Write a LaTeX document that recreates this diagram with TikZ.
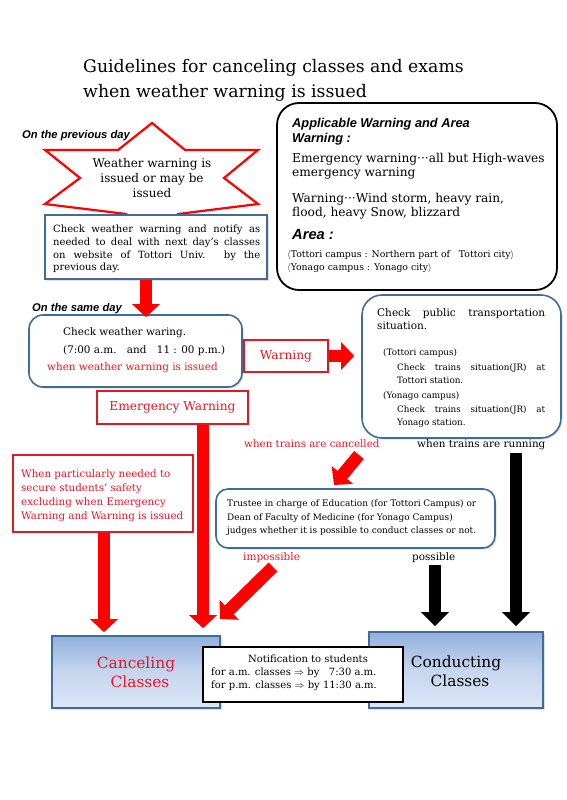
\documentclass[tikz,border=0pt]{standalone}
\usepackage{fontspec}
\setmainfont{DejaVu Serif}
\usetikzlibrary{arrows.meta,shadows}
\newfontfamily\labfont{Liberation Sans}
\definecolor{boxblue}{RGB}{65,108,152}
\definecolor{wred}{RGB}{255,0,0}
\definecolor{tred}{RGB}{225,25,35}
\definecolor{topblue}{RGB}{146,176,222}
\definecolor{botblue}{RGB}{220,230,246}
\tikzset{
  fs/.style={font=\fontsize{#1}{#1}\selectfont},
  txt/.style={inner sep=0pt, anchor=base west},
  ctxt/.style={inner sep=0pt, anchor=base},
  lab/.style={txt, font=\labfont\bfseries\itshape\fontsize{#1}{#1}\selectfont},
  lab/.default=11.2,
  softshadow/.style={drop shadow={shadow xshift=1.5pt, shadow yshift=-1.5pt, opacity=0.25, fill=gray}},
  bluebox/.style={draw=boxblue, line width=1.6pt, fill=white, inner sep=0pt, softshadow},
  redbox/.style={draw=tred, line width=1.6pt, fill=white, text=tred, inner sep=0pt, fs=12.2},
  finalbox/.style={draw=boxblue, line width=1.6pt, top color=topblue, bottom color=botblue, middle color=botblue!70!topblue, inner sep=0pt, softshadow},
  redarrow/.style={draw=wred, line width=12.5pt, -{Triangle[width=27pt,length=13pt]}},
  blackarrow/.style={draw=black, line width=12.5pt, -{Triangle[width=27pt,length=14pt]}},
}
\begin{document}
\begin{tikzpicture}[x=1pt,y=-1pt]
\useasboundingbox (0,0) rectangle (566,800);
\fill[white] (0,0) rectangle (566,800);

% title
\node[txt, fs=17.3] (title1) at (83,73) {Guidelines for canceling classes and exams};
\node[txt, fs=17.3] (title2) at (83,97) {when weather warning is issued};

% previous day
\node[lab] (prevday) at (22,138) {On the previous day};
\draw[draw=wred, line width=2.2pt, fill=white, line join=miter]
  (152,123) -- (185,150) -- (258,150) -- (224,178) -- (258,204) -- (178,214) -- (152,240)
  -- (126,214) -- (45,204) -- (80,178) -- (45,150) -- (118,150) -- cycle;
\node[ctxt, fs=12] (star1) at (152,167) {Weather warning is};
\node[ctxt, fs=12] (star2) at (152,182) {issued or may be};
\node[ctxt, fs=12] (star3) at (152,197) {issued};

\node[bluebox, line width=1.3pt, minimum width=222pt, minimum height=64pt] (box1) at (156,247) {};
\node[txt, fs=10] (b1a) at (53,232) {\makebox[207pt][s]{Check weather warning and notify as}};
\node[txt, fs=10] (b1b) at (53,245) {\makebox[207pt][s]{needed to deal with next day's classes}};
\node[txt, fs=10] (b1c) at (53,258) {\makebox[207pt][s]{on website of Tottori Univ. by the}};
\node[txt, fs=10] (b1d) at (53,270) {previous day.};

% applicable warning box
\node[draw=black, line width=1.8pt, rounded corners=22pt, minimum width=280pt, minimum height=187pt, inner sep=0pt] (apbox) at (417,196.5) {};
\node[lab=12.8] (ap1) at (292,127) {Applicable Warning and Area};
\node[lab=12.8] (ap2) at (292,142) {Warning :};
\node[txt, fs=12.2] (ap3) at (292,162) {Emergency warning···all but High-waves};
\node[txt, fs=12.2] (ap4) at (292,176) {emergency warning};
\node[txt, fs=12.2] (ap5) at (292,202) {Warning···Wind storm, heavy rain,};
\node[txt, fs=12.2] (ap6) at (292,216) {flood, heavy Snow, blizzard};
\node[lab=14.7] (ap7) at (292,239) {Area :};
\node[txt, fs=9.3] (ap8) at (287,257) {$\langle$Tottori campus : Northern part of\ \ \ Tottori city$\rangle$};
\node[txt, fs=9.3] (ap9) at (287,270) {$\langle$Yonago campus : Yonago city$\rangle$};

% same day
\node[lab] (sameday) at (32,311) {On the same day};
\node[bluebox, rounded corners=14pt, minimum width=213pt, minimum height=72pt] (box2) at (135.5,351) {};
\node[txt, fs=10.4] (b2a) at (63,335) {Check weather waring.};
\node[txt, fs=10.4] (b2b) at (63,353) {(7:00 a.m.\quad and\quad 11 : 00 p.m.)};
\node[txt, fs=10.4, text=tred] (b2c) at (47,370) {when weather warning is issued};

\node[redbox, minimum width=84pt, minimum height=32pt] (warn) at (286,356) {Warning};
\node[redbox, minimum width=151pt, minimum height=33pt] (emerg) at (172.5,407.5) {Emergency Warning};

% transport box
\node[bluebox, rounded corners=20pt, minimum width=199pt, minimum height=143pt] (trans) at (461.5,366.5) {};
\node[txt, fs=10.5] (t1) at (377,316) {\makebox[168pt][s]{Check public transportation}};
\node[txt, fs=10.5] (t2) at (377,329) {situation.};
\node[txt, fs=8.8] (t3) at (383,355) {(Tottori campus)};
\node[txt, fs=8.8] (t4) at (397,370) {\makebox[148pt][s]{Check trains situation(JR) at}};
\node[txt, fs=8.8] (t5) at (397,383) {Tottori station.};
\node[txt, fs=8.8] (t6) at (383,398) {(Yonago campus)};
\node[txt, fs=8.8] (t7) at (397,412) {\makebox[148pt][s]{Check trains situation(JR) at}};
\node[txt, fs=8.8] (t8) at (397,425) {Yonago station.};

\node[txt, fs=10.3, text=tred] (cancelled) at (244,447) {when trains are cancelled};
\node[txt, fs=10.4] (running) at (417,447) {when trains are running};

% particular box
\node[redbox, minimum width=180pt, minimum height=77pt] (partic) at (103,493.5) {};
\node[txt, fs=10.3, text=tred] (p1) at (21,477) {When particularly needed to};
\node[txt, fs=10.3, text=tred] (p2) at (21,491) {secure students' safety};
\node[txt, fs=10.3, text=tred] (p3) at (21,505) {excluding when Emergency};
\node[txt, fs=10.3, text=tred] (p4) at (21,519) {Warning and Warning is issued};

% trustee box
\node[bluebox, rounded corners=12pt, minimum width=279pt, minimum height=59pt] (trust) at (355.5,518.5) {};
\node[txt, fs=8.95] (tr1) at (227,506) {Trustee in charge of Education (for Tottori Campus) or};
\node[txt, fs=8.95] (tr2) at (227,520) {Dean of Faculty of Medicine (for Yonago Campus)};
\node[txt, fs=8.95] (tr3) at (227,533) {judges whether it is possible to conduct classes or not.};

\node[txt, fs=10.5, text=tred] (imposs) at (243,560) {impossible};
\node[txt, fs=10.4] (poss) at (412,560) {possible};

% final boxes
\node[finalbox, minimum width=168pt, minimum height=72pt] (cancel) at (136,672) {};
\node[ctxt, fs=15.4, text=tred] (c1) at (136,668) {Canceling};
\node[ctxt, fs=15.4, text=tred] (c2) at (140,687) {Classes};
\node[finalbox, minimum width=174pt, minimum height=76pt] (conduct) at (456,670) {};
\node[ctxt, fs=15.4] (d1) at (456,667) {Conducting};
\node[ctxt, fs=15.4] (d2) at (460,686) {Classes};
\node[draw=black, line width=1.6pt, fill=white, minimum width=200pt, minimum height=55pt, inner sep=0pt] (notif) at (303,674.5) {};
\node[ctxt, fs=10] (n1) at (308,662) {Notification to students};
\node[txt, fs=10] (n2) at (211,675) {for a.m. classes $\Rightarrow$ by\ \ \ 7:30 a.m.};
\node[txt, fs=10] (n3) at (211,688) {for p.m. classes $\Rightarrow$ by 11:30 a.m.};

% arrows
\draw[redarrow] ([xshift=-10pt]box1.south) -- ([xshift=10.5pt,yshift=-3pt]box2.north);
\draw[redarrow, shorten >=7pt] (warn.east) -- (trans.west |- warn.east);
\draw[redarrow, shorten >=7pt] ([xshift=30.5pt]emerg.south) -- ([xshift=67pt]cancel.north);
\draw[redarrow, shorten >=3pt] ([xshift=1pt]partic.south) -- ([xshift=-32pt]cancel.north);
\coordinate (d1s) at (359,455);
\coordinate (d1e) at (334,485);
\draw[redarrow] (d1s) -- (d1e);
\coordinate (d2s) at (273,567);
\coordinate (d2e) at (220,619);
\draw[redarrow] (d2s) -- (d2e);
\coordinate (k1s) at (435,565);
\draw[blackarrow, shorten >=5pt] (k1s) -- (k1s |- conduct.north);
\coordinate (k2s) at (516,453);
\draw[blackarrow, shorten >=5pt] (k2s) -- (k2s |- conduct.north);
\end{tikzpicture}
\end{document}
